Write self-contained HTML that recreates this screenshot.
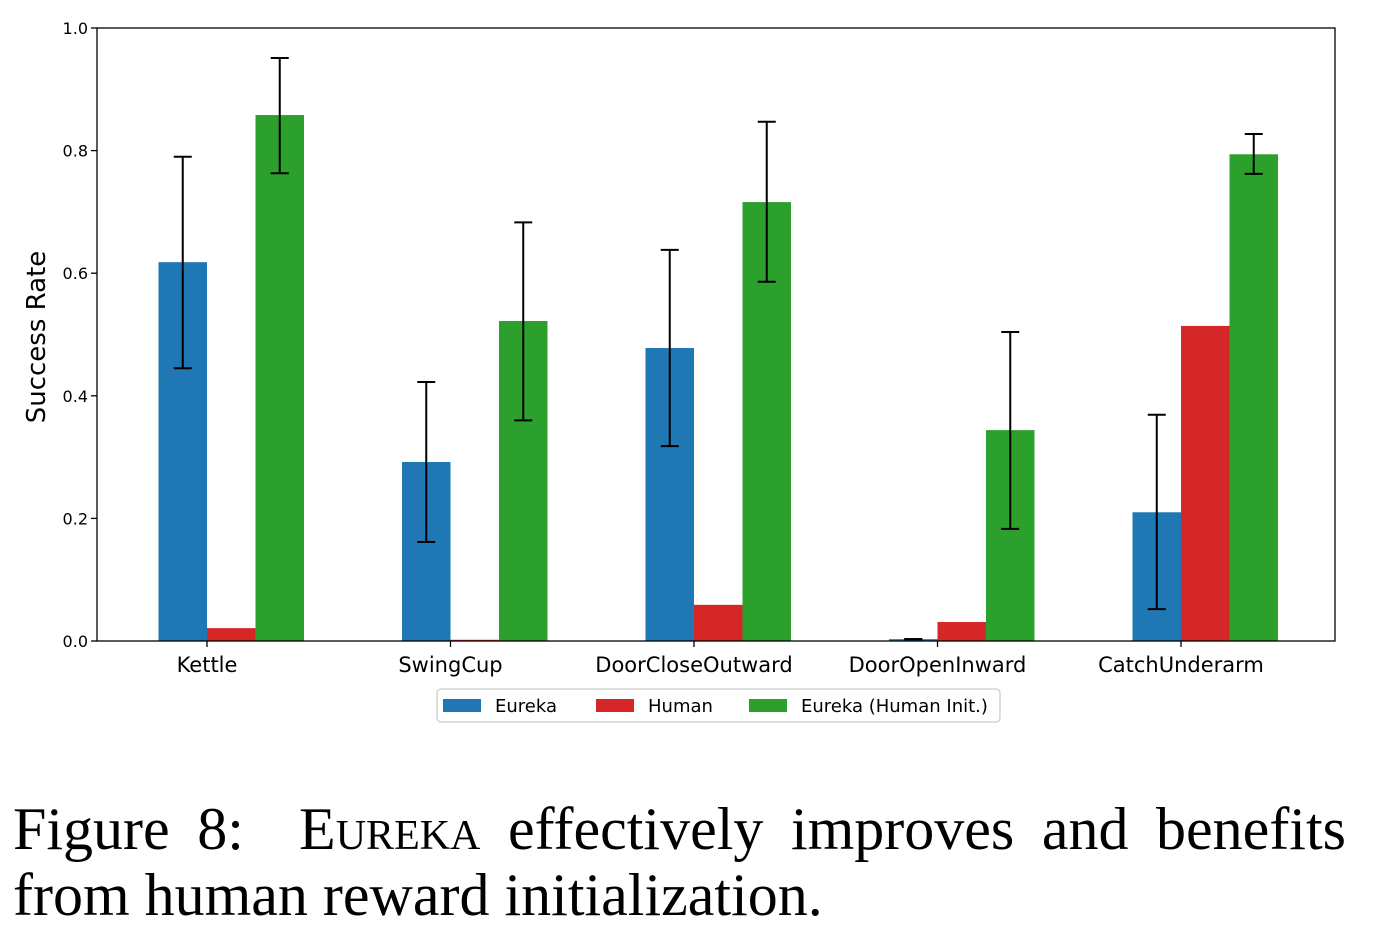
<!DOCTYPE html>
<html><head><meta charset="utf-8">
<style>
body{margin:0;width:1382px;height:950px;background:#fff;overflow:hidden;}
svg text{font-family:"DejaVu Sans","Liberation Sans",sans-serif;}
.cap{position:absolute;left:13px;top:796px;width:1333px;font-family:"Liberation Serif",serif;font-size:60px;line-height:66px;color:#000;}
.l1{text-align:justify;text-align-last:justify;white-space:nowrap;}
.sc{font-variant:small-caps;}
</style></head>
<body>
<svg id="chart" width="1382" height="760" style="position:absolute;left:0;top:0">
</svg>
<div class="cap"><div class="l1">Figure 8:&nbsp; E<span class="sc">ureka</span> effectively improves and benefits</div><div>from human reward initialization.</div></div>
<script>
const categories=["Kettle","SwingCup","DoorCloseOutward","DoorOpenInward","CatchUnderarm"];
const eureka=[0.618,0.292,0.478,0.003,0.21];
const eurekaLo=[0.445,0.1615,0.318,0.003,0.052];
const eurekaHi=[0.79,0.4225,0.638,0.003,0.369];
const human=[0.021,0.002,0.059,0.031,0.514];
const green=[0.858,0.522,0.716,0.344,0.794];
const greenLo=[0.763,0.36,0.586,0.183,0.762];
const greenHi=[0.951,0.683,0.847,0.504,0.827];
const yTicks=["0.0","0.2","0.4","0.6","0.8","1.0"];
const seriesNames=["Eureka","Human","Eureka (Human Init.)"];
const colors=["#1f77b4","#d62728","#2ca02c"];

const svg=document.getElementById('chart');
const NS="http://www.w3.org/2000/svg";
const L=97,R=1335,T=28,B=641;
const y=v=>B-v*(B-T);
const cx=i=>207+i*243.5;
const bw=48.5;
function mk(tag,attrs,parent){const e=document.createElementNS(NS,tag);for(const k in attrs)e.setAttribute(k,attrs[k]);(parent||svg).appendChild(e);return e;}

const series=[[eureka,eurekaLo,eurekaHi],[human,null,null],[green,greenLo,greenHi]];
series.forEach((s,si)=>{
  s[0].forEach((v,i)=>{
    const x=cx(i)+(si-1)*bw;
    const r=mk('rect',{x:x,y:y(v),width:bw,height:y(0)-y(v),fill:colors[si]});
    
    
  });
});
series.forEach((s,si)=>{
  if(!s[1])return;
  s[0].forEach((v,i)=>{
    const xc=cx(i)+(si-1)*bw+bw/2;
    const g=mk('g',{stroke:'#000','stroke-width':2});
    
    
    mk('line',{x1:xc,x2:xc,y1:y(s[1][i]),y2:y(s[2][i])},g);
    mk('line',{x1:xc-9,x2:xc+9,y1:y(s[1][i]),y2:y(s[1][i])},g);
    mk('line',{x1:xc-9,x2:xc+9,y1:y(s[2][i]),y2:y(s[2][i])},g);
  });
});
const frame=mk('rect',{x:L,y:T,width:R-L,height:B-T,fill:'none',stroke:'#000','stroke-width':1.3});


yTicks.forEach(t=>{
  const v=parseFloat(t);
  mk('line',{x1:L-6,x2:L,y1:y(v),y2:y(v),stroke:'#000','stroke-width':1.3});
  const tx=mk('text',{x:L-9,y:y(v)+6,'text-anchor':'end','font-size':16,fill:'#000'});
  tx.textContent=t;
  
  
});
categories.forEach((c,i)=>{
  mk('line',{x1:cx(i),x2:cx(i),y1:B,y2:B+6,stroke:'#000','stroke-width':1.3});
  const tx=mk('text',{x:cx(i),y:B+31,'text-anchor':'middle','font-size':21,fill:'#000'});
  tx.textContent=c;
  
  
});
const yt=mk('text',{x:0,y:0,'text-anchor':'middle','font-size':26,fill:'#000',transform:'translate(45,337) rotate(-90)'});
yt.textContent="Success Rate";


const lg=mk('g',{});


mk('rect',{x:437,y:689,width:563,height:33,rx:4,fill:'#fff',stroke:'#ccc','stroke-width':1.3},lg);
const lx=[443,596,749];
seriesNames.forEach((n,i)=>{
  const e=mk('g',{},lg);
  
  
  mk('rect',{x:lx[i],y:699,width:38,height:13,fill:colors[i]},e);
  const t=mk('text',{x:lx[i]+52,y:712,'font-size':18,fill:'#000'},e);
  t.textContent=n;
});
</script>
</body></html>
